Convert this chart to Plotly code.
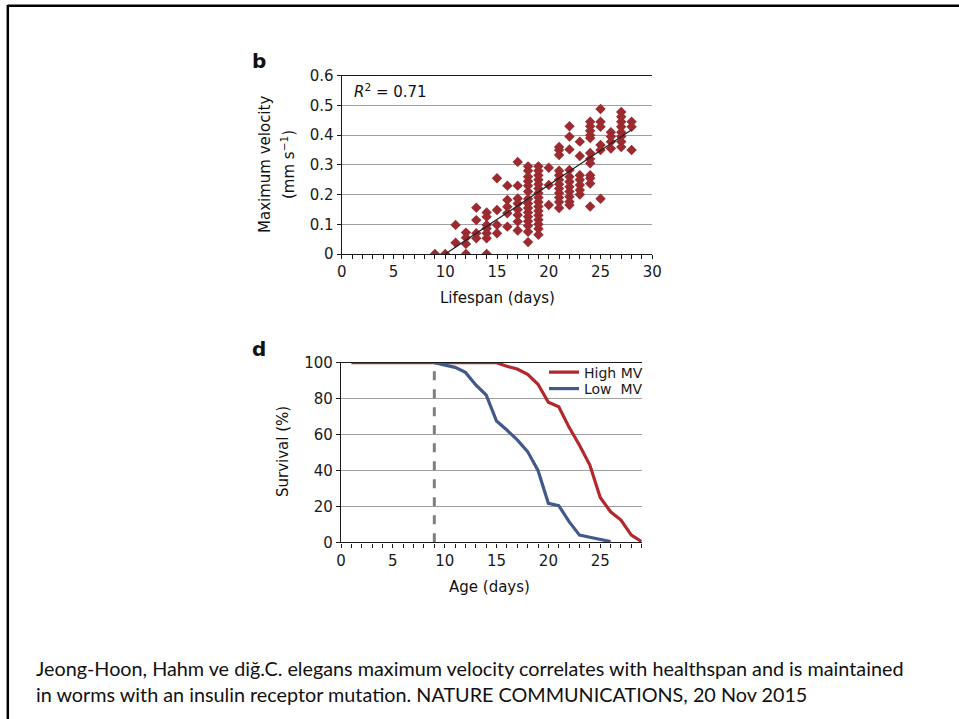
import plotly.graph_objects as go

# ---------------- data: panel b (scatter) ----------------
lifespan_days = (
    [9] + [10] + [11, 11] + [12, 12, 12, 12]
    + [13, 13, 13, 13]
    + [14] * 7
    + [15] * 4
    + [16] * 5
    + [17] * 8
    + [18] * 15
    + [19] * 16
    + [20] * 3
    + [21] * 12
    + [22] * 11
    + [23] * 7
    + [24] * 12
    + [25] * 6
    + [26] * 4
    + [27] * 8
    + [28] * 3
)
max_velocity = (
    [0.0] + [0.0] + [0.098, 0.038] + [0.072, 0.055, 0.034, 0.0]
    + [0.156, 0.114, 0.07, 0.053]
    + [0.14, 0.125, 0.098, 0.086, 0.07, 0.053, 0.0]
    + [0.255, 0.148, 0.098, 0.07]
    + [0.23, 0.182, 0.159, 0.137, 0.092]
    + [0.31, 0.23, 0.187, 0.17, 0.15, 0.131, 0.109, 0.079]
    + [0.295, 0.28, 0.26, 0.245, 0.23, 0.21, 0.185, 0.17, 0.155, 0.14, 0.125, 0.11, 0.095, 0.075, 0.04]
    + [0.295, 0.28, 0.265, 0.25, 0.235, 0.22, 0.205, 0.19, 0.175, 0.16, 0.145, 0.13, 0.115, 0.1, 0.085, 0.065]
    + [0.29, 0.232, 0.165]
    + [0.36, 0.35, 0.333, 0.28, 0.265, 0.25, 0.235, 0.22, 0.205, 0.19, 0.175, 0.155]
    + [0.43, 0.395, 0.352, 0.283, 0.26, 0.243, 0.226, 0.21, 0.193, 0.176, 0.165]
    + [0.378, 0.33, 0.265, 0.25, 0.232, 0.215, 0.2]
    + [0.445, 0.43, 0.415, 0.4, 0.39, 0.34, 0.32, 0.305, 0.265, 0.255, 0.237, 0.16]
    + [0.488, 0.445, 0.428, 0.367, 0.35, 0.186]
    + [0.41, 0.395, 0.378, 0.355]
    + [0.478, 0.462, 0.445, 0.428, 0.41, 0.395, 0.378, 0.36]
    + [0.445, 0.428, 0.35]
)
trend_x = [10, 28]
trend_y = [0.0, 0.418]
r2_text = "<i>R</i><sup>2</sup> = 0.71"

# ---------------- data: panel d (survival) ----------------
high_age = [1, 15, 16, 17, 18, 19, 20, 21, 22, 23, 24, 25, 26, 27, 28, 29]
high_surv = [100, 100, 98, 96.5, 93.5, 88, 78, 75.5, 64, 54, 43, 25, 17, 12.4, 4, 0.4]
low_age = [9, 10, 11, 12, 13, 14, 15, 16, 17, 18, 19, 20, 21, 22, 23, 24, 25, 26]
low_surv = [100, 98.7, 97.4, 94.6, 87.6, 82, 67.5, 62.5, 57, 50.5, 40, 21.7, 20.4, 11.5, 4, 2.8, 1.5, 0.4]
cutoff_x = [9, 9]
cutoff_y = [0, 100]

caption = ("Jeong-Hoon, Hahm ve diğ.C. elegans maximum velocity correlates with healthspan and is maintained<br>"
           "in worms with an insulin receptor mutation. NATURE COMMUNICATIONS, 20 Nov 2015")

# ---------------- figure ----------------
W, H = 959, 719
def px(x):
    return x / W
def py(y):
    return 1 - y / H

FONT = "DejaVu Sans, Liberation Sans, Arial, sans-serif"
RED_MARK = "#9b2b30"
RED = "#b3282d"
BLUE = "#42598c"
GRID = "#a0a0a0"
AX = "#1a1a1a"

fig = go.Figure()

fig.add_trace(go.Scatter(
    x=lifespan_days, y=max_velocity, mode="markers",
    marker=dict(symbol="diamond", size=8, color=RED_MARK, line=dict(width=0)),
    xaxis="x", yaxis="y", showlegend=False))
fig.add_trace(go.Scatter(
    x=trend_x, y=trend_y, mode="lines",
    line=dict(color="#222222", width=1.3),
    xaxis="x", yaxis="y", showlegend=False))

fig.add_trace(go.Scatter(
    x=cutoff_x, y=cutoff_y, mode="lines",
    line=dict(color="#7f7f7f", width=3, dash="dash"),
    xaxis="x2", yaxis="y2", showlegend=False))
fig.add_trace(go.Scatter(
    x=high_age, y=high_surv, mode="lines", name="High MV",
    line=dict(color=RED, width=3.2),
    xaxis="x2", yaxis="y2", legend="legend"))
fig.add_trace(go.Scatter(
    x=low_age, y=low_surv, mode="lines", name="Low  MV",
    line=dict(color=BLUE, width=3.2),
    xaxis="x2", yaxis="y2", legend="legend2"))

axis_common = dict(
    showline=True, linecolor=AX, linewidth=1.4,
    ticks="outside", ticklen=4, tickcolor=AX, tickwidth=1,
    tickfont=dict(family=FONT, size=15, color=AX),
    zeroline=False, fixedrange=True, automargin=False,
)

legend_common = dict(
    xanchor="left", yanchor="middle",
    bgcolor="rgba(0,0,0,0)", borderwidth=0,
    font=dict(family=FONT, size=14, color=AX),
    itemwidth=30,
)

fig.update_layout(
    template="none",
    width=W, height=H,
    margin=dict(l=0, r=0, t=0, b=0, pad=0, autoexpand=False),
    paper_bgcolor="white", plot_bgcolor="white",
    font=dict(family=FONT, color=AX),
    xaxis=dict(
        domain=[px(341.7), px(652.3)], range=[0, 30], anchor="y",
        tickvals=[0, 5, 10, 15, 20, 25, 30], showgrid=False, mirror=True,
        minor=dict(dtick=1, ticks="outside", ticklen=4, tickcolor=AX, showgrid=False),
        **axis_common),
    yaxis=dict(
        domain=[py(254), py(75.7)], range=[0, 0.6], anchor="x",
        tickvals=[0, 0.1, 0.2, 0.3, 0.4, 0.5, 0.6],
        ticktext=["0", "0.1", "0.2", "0.3", "0.4", "0.5", "0.6"],
        showgrid=True, gridcolor=GRID, gridwidth=1,
        **axis_common),
    xaxis2=dict(
        domain=[px(341), px(641.7)], range=[0, 29], anchor="y2",
        tickvals=[0, 5, 10, 15, 20, 25], showgrid=False, mirror=True,
        minor=dict(dtick=1, ticks="outside", ticklen=4, tickcolor=AX, showgrid=False),
        **axis_common),
    yaxis2=dict(
        domain=[py(542.3), py(362.7)], range=[0, 100], anchor="x2",
        tickvals=[0, 20, 40, 60, 80, 100],
        showgrid=True, gridcolor=GRID, gridwidth=1,
        **axis_common),
    legend=dict(x=px(544), y=py(372.5), **legend_common),
    legend2=dict(x=px(544), y=py(389), **legend_common),
)

ann = []
def text(x, y, t, size, angle=0, bold=False, xanchor="center", fam=FONT, align="center"):
    ann.append(dict(x=px(x), y=py(y), xref="paper", yref="paper", text=(f"<b>{t}</b>" if bold else t),
                    showarrow=False, textangle=angle, xanchor=xanchor, yanchor="middle",
                    align=align, font=dict(family=fam, size=size, color="#111111")))

text(259, 61, "b", 20, bold=True)
text(259, 349, "d", 20, bold=True)
text(352, 91, r2_text, 15, xanchor="left")
text(265, 165, "Maximum velocity", 15, angle=-90)
text(288, 165, "(mm s<sup>−1</sup>)", 15, angle=-90)
text(497, 298, "Lifespan (days)", 15)
text(283, 452, "Survival (%)", 15, angle=-90)
text(489, 587, "Age (days)", 15)
text(34, 681, caption, 19.8, xanchor="left", fam="Lato, Open Sans, sans-serif", align="left")
fig.update_layout(annotations=ann)

# slide border
fig.add_shape(type="line", xref="paper", yref="paper", x0=px(7.5), x1=1, y0=py(5.8), y1=py(5.8),
              line=dict(color="black", width=2.5))
fig.add_shape(type="line", xref="paper", yref="paper", x0=px(7.8), x1=px(7.8), y0=py(5), y1=0,
              line=dict(color="black", width=2.5))

fig.write_html("out.html")
